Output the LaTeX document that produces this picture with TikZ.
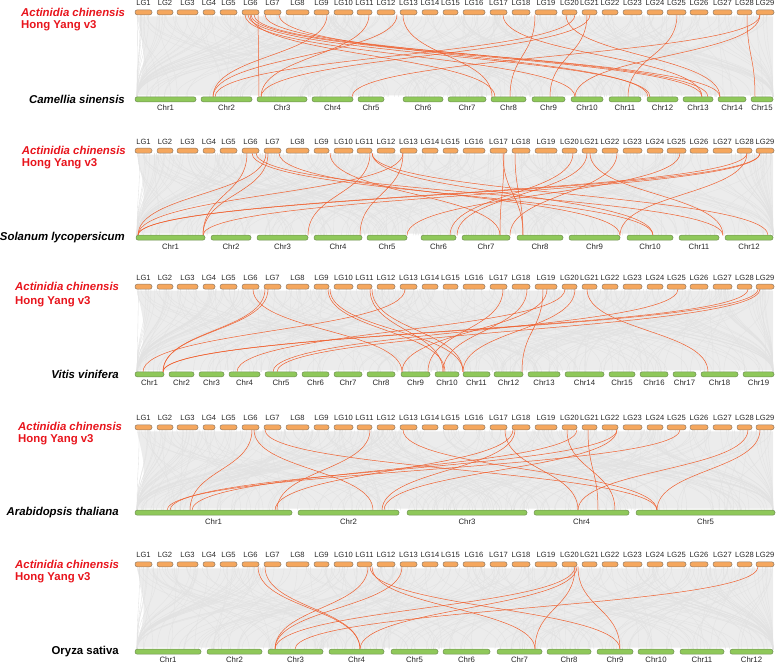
\documentclass[tikz,border=0pt]{standalone}
\usepackage{fontspec}
\setmainfont{Liberation Sans}
\definecolor{lgfill}{HTML}{F5A75E}
\definecolor{lgdraw}{HTML}{8F7A66}
\definecolor{chrfill}{HTML}{8FC85A}
\definecolor{chrdraw}{HTML}{6F8F52}
\definecolor{redline}{HTML}{F0602F}
\definecolor{spred}{HTML}{E8141C}
\definecolor{bgfill}{HTML}{ECECEC}
\definecolor{bgline}{HTML}{E2E2E2}
\tikzset{
 lgbar/.style={draw=lgdraw, fill=lgfill, line width=0.5pt, rounded corners=2.3pt, minimum height=5pt, inner sep=0pt},
 chrbar/.style={draw=chrdraw, fill=chrfill, line width=0.5pt, rounded corners=2.3pt, minimum height=5pt, inner sep=0pt},
 lglabel/.style={font=\fontsize{7.6}{8}\selectfont, inner sep=0pt, text=black!85},
 chrlabel/.style={font=\fontsize{7.8}{9}\selectfont, inner sep=0pt, text=black!85},
 synt/.style={draw=redline, line width=0.5pt},
 bgcurve/.style={draw=bgline, line width=0.35pt},
 spname/.style={font=\fontsize{11.4}{13}\selectfont\bfseries\itshape, anchor=east, inner sep=0pt},
 refname/.style={font=\fontsize{11.4}{13}\selectfont\bfseries, text=spred, anchor=west, inner sep=0pt},
}
\newcommand{\lgrow}[2]{%
 \foreach \a/\b/\n in {135/152/1,157/173/2,177/198/3,203/215/4,220/237/5,242/259/6,264/281/7,286/309/8,314/329/9,334/353/10,357/372/11,377/395/12,400/417/13,422/438/14,443/458/15,463/485/16,490/507/17,512/530/18,535/557/19,562/577/20,582/597/21,602/618/22,623/642/23,647/663/24,667/686/25,690/708/26,713/732/27,737/752/28,756/774/29}{
   \node[lgbar, minimum width={(\b-\a)*1pt}] (#2lg\n) at ({(\a+\b)/2}, #1) {};
   \node[lglabel] (#2lgt\n) at ({(\a+\b)/2}, #1-9) {LG\n};
 }}
\newcommand{\bgband}[3]{%
 \fill[bgfill] (137,#1+4) .. controls (146,{(#1+#2)/2}) .. (137,#2-4) -- (773,#2-4) -- (773,#1+4) -- cycle;
 \pgfmathsetseed{#3}
 \foreach \i in {1,...,260}{
   \pgfmathsetmacro{\xa}{137+636*rnd}
   \pgfmathsetmacro{\xb}{max(137,min(773,\xa+260*rand))}
   \draw[bgcurve] (\xa,#1+2.4) .. controls (\xa,{(#1+#2)/2}) and (\xb,{(#1+#2)/2}) .. (\xb,#2-2.4);
 }}
\newcommand{\syncurve}[4]{%
 \draw[synt] (#1,#3+2.4) .. controls (#1,{(#3+#4)/2}) and (#2,{(#3+#4)/2}) .. (#2,#4-2.4);}
\begin{document}
\begin{tikzpicture}[x=1pt,y=-1pt]
\useasboundingbox (0,0) rectangle (777,664);
% ---------- panel 1 ----------
\bgband{12.3}{99.3}{11}
\foreach \a/\b in {258/259,245/575,248/650,251/702,254/720,250/495,265/708,279/648,327/213,369/261,397/213,403/492,503/702,535/510,575/215,566/720,587/550,677/628,747/755,760/575,760/352,590/261}{\syncurve{\a}{\b}{12.3}{99.3}}
\lgrow{12.3}{a}
\foreach \a/\b/\n in {135/196/1,201/252/2,257/307/3,312/353/4,358/384/5,403/443/6,448/486/7,491/526/8,532/565/9,571/603/10,609/641/11,647/678/12,683/713/13,718/746/14,751/773/15}{
  \node[chrbar, minimum width={(\b-\a)*1pt}] (achr\n) at ({(\a+\b)/2}, 99.3) {};
  \node[chrlabel] (achrt\n) at ({(\a+\b)/2}, 107.8) {Chr\n};}
\node[refname] (aref1) at (21,12.3) {\itshape Actinidia chinensis};
\node[refname] (aref2) at (21,26) {Hong Yang v3};
\node[spname] (asp) at (125,99.3) {Camellia sinensis};
% ---------- panel 2 ----------
\bgband{150.7}{237.7}{22}
\foreach \a/\b in {247/203,252/653,256/723,266/138,268/203,279/620,330/500,370/308,372/653,403/138,403/360,503/523,504/500,515/523,573/450,590/723,587/457,617/510,747/620,747/138,760/138,760/203,680/407,372/768}{\syncurve{\a}{\b}{150.7}{237.7}}
\lgrow{150.7}{b}
\foreach \a/\b/\n in {136/205/1,211/251/2,257/308/3,314/362/4,367/407/5,421/456/6,462/510/7,517/563/8,569/620/9,627/673/10,679/719/11,725/773/12}{
  \node[chrbar, minimum width={(\b-\a)*1pt}] (bchr\n) at ({(\a+\b)/2}, 237.7) {};
  \node[chrlabel] (bchrt\n) at ({(\a+\b)/2}, 246.4) {Chr\n};}
\node[refname] (bref1) at (21.7,150.7) {\itshape Actinidia chinensis};
\node[refname] (bref2) at (21.7,164) {Hong Yang v3};
\node[spname] (bsp) at (125,237.7) {Solanum lycopersicum};
% ---------- panel 3 ----------
\bgband{286.7}{374.3}{33}
\foreach \a/\b in {253/402,265/163,268/163,328/445,330/463,370/443,372/463,405/143,503/428,527/443,543/522,547/402,565/237,575/463,587/708,678/273,748/163,760/277,758/163}{\syncurve{\a}{\b}{286.7}{374.3}}
\lgrow{286.7}{c}
\foreach \a/\b/\n in {135/164/1,169/194/2,199/224/3,229/260/4,265/297/5,302/329/6,334/362/7,367/395/8,401/430/9,435/459/10,463/490/11,494/523/12,528/560/13,565/604/14,609/635/15,640/668/16,673/696/17,701/738/18,743/774/19}{
  \node[chrbar, minimum width={(\b-\a)*1pt}] (cchr\n) at ({(\a+\b)/2}, 374.3) {};
  \node[chrlabel] (cchrt\n) at ({(\a+\b)/2}, 383) {Chr\n};}
\node[refname] (cref1) at (15,286.3) {\itshape Actinidia chinensis};
\node[refname] (cref2) at (15,301.7) {Hong Yang v3};
\node[spname] (csp) at (119,374.3) {Vitis vinifera};
% ---------- panel 4 ----------
\bgband{427.3}{512.7}{44}
\foreach \a/\b in {252/190,254/373,265/657,370/277,403/657,505/578,513/275,515/382,567/615,577/192,588/598,617/170,617/384,680/167,748/578,760/657}{\syncurve{\a}{\b}{427.3}{512.7}}
\lgrow{427.3}{d}
\foreach \a/\b/\n in {135/292/1,298/399/2,407/527/3,534/629/4,636/775/5}{
  \node[chrbar, minimum width={(\b-\a)*1pt}] (dchr\n) at ({(\a+\b)/2}, 512.7) {};
  \node[chrlabel] (dchrt\n) at ({(\a+\b)/2}, 521.7) {Chr\n};}
\node[refname] (dref1) at (18,426) {\itshape Actinidia chinensis};
\node[refname] (dref2) at (18,439.3) {Hong Yang v3};
\node[spname] (dsp) at (119,512.7) {Arabidopsis thaliana};
% ---------- panel 5 ----------
\bgband{564.3}{651.7}{55}
\foreach \a/\b in {258/360,265/360,368/275,370/620,372/535,402/275,575/275,577/360,575/535,578/620,758/295}{\syncurve{\a}{\b}{564.3}{651.7}}
\lgrow{564.3}{e}
\foreach \a/\b/\n in {135/201/1,207/262/2,268/323/3,329/384/4,391/438/5,443/490/6,497/542/7,547/591/8,597/633/9,638/674/10,680/724/11,730/773/12}{
  \node[chrbar, minimum width={(\b-\a)*1pt}] (echr\n) at ({(\a+\b)/2}, 651.7) {};
  \node[chrlabel] (echrt\n) at ({(\a+\b)/2}, 660) {Chr\n};}
\node[refname] (eref1) at (15,564) {\itshape Actinidia chinensis};
\node[refname] (eref2) at (15,578) {Hong Yang v3};
\node[spname, font=\fontsize{11.4}{13}\selectfont\bfseries] (esp) at (119,651.7) {Oryza sativa};
\end{tikzpicture}
\end{document}
